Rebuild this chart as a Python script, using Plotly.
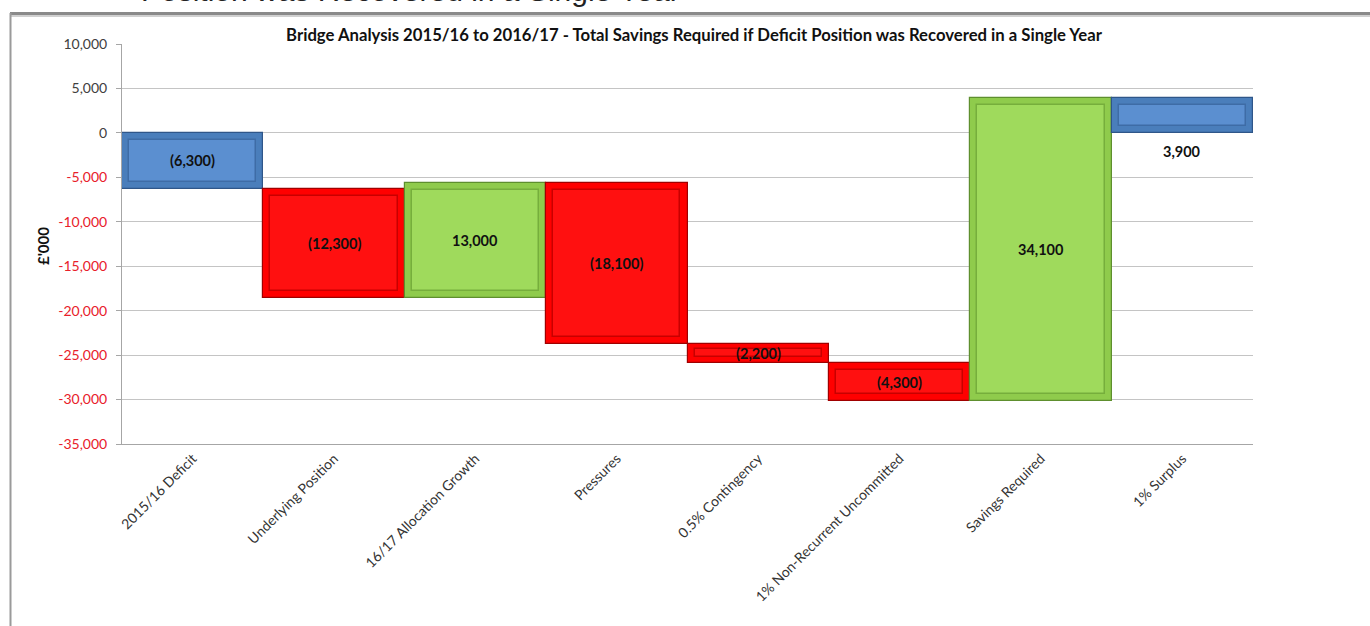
import plotly.graph_objects as go

categories = ["2015/16 Deficit", "Underlying Position", "16/17 Allocation Growth", "Pressures",
              "0.5% Contingency", "1% Non-Recurrent Uncommitted", "Savings Required", "1% Surplus"]
changes = [-6300, -12300, 13000, -18100, -2200, -4300, 34100, 3900]
kinds = ["total", "delta", "delta", "delta", "delta", "delta", "delta", "total"]
y_ticks = [10000, 5000, 0, -5000, -10000, -15000, -20000, -25000, -30000, -35000]

W, H = 1370, 626
ML, MR, MT, MB = 122, 117, 44, 182
PW, PH = W - ML - MR, H - MT - MB
YMIN, YMAX = -35000, 10000

def px_x(px):
    return (px - ML) / PW

def px_y(py):
    return (H - MB - py) / PH

def fmt(v):
    s = f"{abs(v):,}"
    return f"({s})" if v < 0 else s

# compute bar extents (waterfall)
los, his, cols = [], [], []
run = 0
for v, k in zip(changes, kinds):
    if k == "total":
        a, b = 0, v
        run = v
    else:
        a, b = run, run + v
        run = run + v
    los.append(min(a, b)); his.append(max(a, b))
    if k == "total":
        cols.append(("#4A7EBB", "#2F5689", "#5B8FD0", "#3E6CA6"))
    elif v < 0:
        cols.append(("#FF0000", "#A00000", "#FF1010", "#C80000"))
    else:
        cols.append(("#8FCB4C", "#5E8F2E", "#9FDA5C", "#76AE3C"))

fig = go.Figure()
# outer bars
fig.add_trace(go.Bar(
    x=categories, base=los, y=[h - l for l, h in zip(los, his)], width=1.0,
    marker=dict(color=[c[0] for c in cols], line=dict(color=[c[1] for c in cols], width=1.2)),
    hoverinfo="skip", showlegend=False))
# inner bevel face
unit = (YMAX - YMIN) / PH
ins = [min(7 * unit, (h - l) * 0.3) for l, h in zip(los, his)]
fig.add_trace(go.Bar(
    x=categories, base=[l + i for l, i in zip(los, ins)],
    y=[(h - l) - 2 * i for l, h, i in zip(los, his, ins)], width=0.9,
    marker=dict(color=[c[2] for c in cols], line=dict(color=[c[3] for c in cols], width=1.5)),
    hoverinfo="skip", showlegend=False))

annotations = []
lab_font = dict(family="Lato", size=14.5, color="#111111")
for i, (cat, v, l, h) in enumerate(zip(categories, changes, los, his)):
    if i == len(categories) - 1:
        annotations.append(dict(x=cat, y=l, xref="x", yref="y", text=f"<b>{fmt(v)}</b>",
                                showarrow=False, yanchor="top", yshift=-8, font=lab_font))
    else:
        annotations.append(dict(x=cat, y=(l + h) / 2, xref="x", yref="y", text=f"<b>{fmt(v)}</b>",
                                showarrow=False, yanchor="middle", font=lab_font))

# y axis title
annotations.append(dict(x=px_x(43), y=px_y(246), xref="paper", yref="paper", text="<b>£'000</b>",
                        showarrow=False, textangle=-90, xanchor="center", yanchor="middle",
                        font=dict(family="Lato", size=15, color="#111111")))
# cut-off slide heading at the very top
annotations.append(dict(x=px_x(682), y=px_y(9), xref="paper", yref="paper",
                        text="Position was Recovered in a Single Year",
                        showarrow=False, xanchor="right", yanchor="bottom",
                        font=dict(family="Liberation Sans", size=30, color="#222222")))

ticktext = []
for t in y_ticks:
    s = f"{t:,}"
    if t < 0:
        ticktext.append(f"<span style='color:#E8202A'>{s}</span>")
    else:
        ticktext.append(s)

shapes = [
    dict(type="line", xref="paper", yref="paper", x0=px_x(10), x1=px_x(1372), y0=px_y(13.5), y1=px_y(13.5),
         line=dict(color="#8A8A8A", width=3)),
    dict(type="line", xref="paper", yref="paper", x0=px_x(10), x1=px_x(1372), y0=px_y(16), y1=px_y(16),
         line=dict(color="#D0D0D0", width=2)),
    dict(type="line", xref="paper", yref="paper", x0=px_x(10.5), x1=px_x(10.5), y0=px_y(13), y1=px_y(630),
         line=dict(color="#9A9A9A", width=2)),
]

fig.update_layout(
    width=W, height=H,
    margin=dict(l=ML, r=MR, t=MT, b=MB, pad=0),
    paper_bgcolor="white", plot_bgcolor="white",
    barmode="overlay", bargap=0,
    title=dict(text="<b>Bridge Analysis 2015/16 to 2016/17 - Total Savings Required if Deficit Position was Recovered in a Single Year</b>",
               x=px_x(694), xref="paper", xanchor="center", y=(H - 35) / H, yanchor="middle",
               font=dict(family="Lato", size=16.7, color="#111111")),
    xaxis=dict(type="category", tickangle=-45, showgrid=False, showline=True, linecolor="#A6A6A6",
               ticks="", tickfont=dict(family="Lato", size=14, color="#333333")),
    yaxis=dict(range=[YMIN, YMAX], tickvals=y_ticks, ticktext=ticktext, showgrid=True,
               gridcolor="#C4C4C4", gridwidth=1, zeroline=False, showline=True, linecolor="#A6A6A6",
               ticks="outside", ticklen=5, tickcolor="#A6A6A6", ticklabelstandoff=6,
               tickfont=dict(family="Lato", size=14, color="#404040")),
    annotations=annotations,
    shapes=shapes,
    font=dict(family="Lato"),
)

fig.write_html("out.html")
